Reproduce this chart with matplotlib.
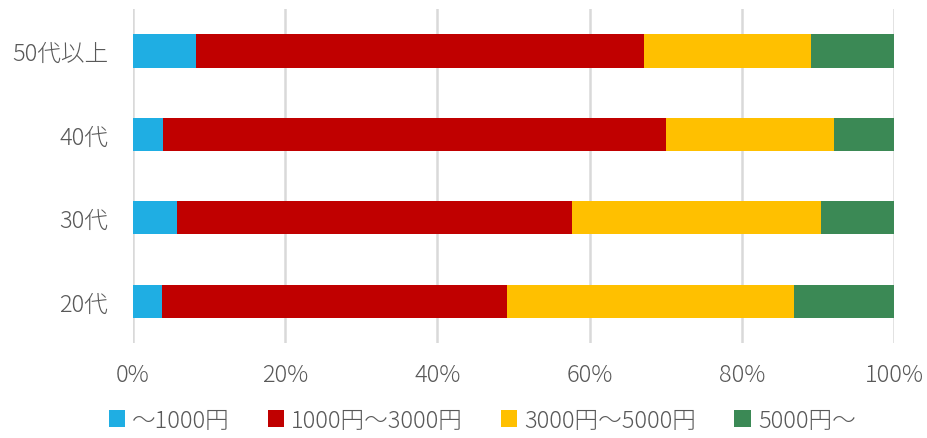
import numpy as np
import matplotlib.pyplot as plt

plt.rcParams['font.family'] = ['Noto Sans CJK JP', 'DejaVu Sans']
plt.rcParams['font.weight'] = 'light'

ages = ['20代', '30代', '40代', '50代以上']
series = ['～1000円', '1000円～3000円', '3000円～5000円', '5000円～']
under_1000 = [3.8, 5.8, 3.9, 8.3]
from_1000 = [45.3, 51.9, 66.1, 58.8]
from_3000 = [37.8, 32.7, 22.1, 22.0]
over_5000 = [13.1, 9.6, 7.9, 10.9]
colors = ['#1FAEE3', '#C00000', '#FFC000', '#3B8955']

fig = plt.figure(figsize=(9.27, 4.39), dpi=100)
ax = fig.add_axes([0.1435, 0.2164, 0.8209, 0.7606])

y = np.arange(len(ages))
left = np.zeros(len(ages))
for vals, name, c in zip([under_1000, from_1000, from_3000, over_5000], series, colors):
    ax.barh(y, vals, left=left, height=0.4, color=c, label=name, zorder=3)
    left += np.array(vals)

ax.set_xlim(0, 100)
ax.set_ylim(-0.5, 3.5)
ax.set_yticks(y)
ax.set_yticklabels(ages)
ax.set_xticks(np.arange(0, 101, 20))
ax.set_xticklabels([f'{v}%' for v in range(0, 101, 20)])
ax.grid(axis='x', color='#D9D9D9', linewidth=1.8, zorder=0)
for s in ax.spines.values():
    s.set_visible(False)
ax.tick_params(axis='y', length=0, labelsize=17, colors='#595959', pad=18)
ax.tick_params(axis='x', length=0, labelsize=17, colors='#595959', pad=14)

fig.legend(loc='center', bbox_to_anchor=(0.52, 0.04), ncol=4, frameon=False,
           fontsize=17, labelcolor='#595959', handlelength=0.7, handleheight=0.7,
           handletextpad=0.3, columnspacing=1.6, borderpad=0.2)

fig.savefig('out.png', dpi=100)
